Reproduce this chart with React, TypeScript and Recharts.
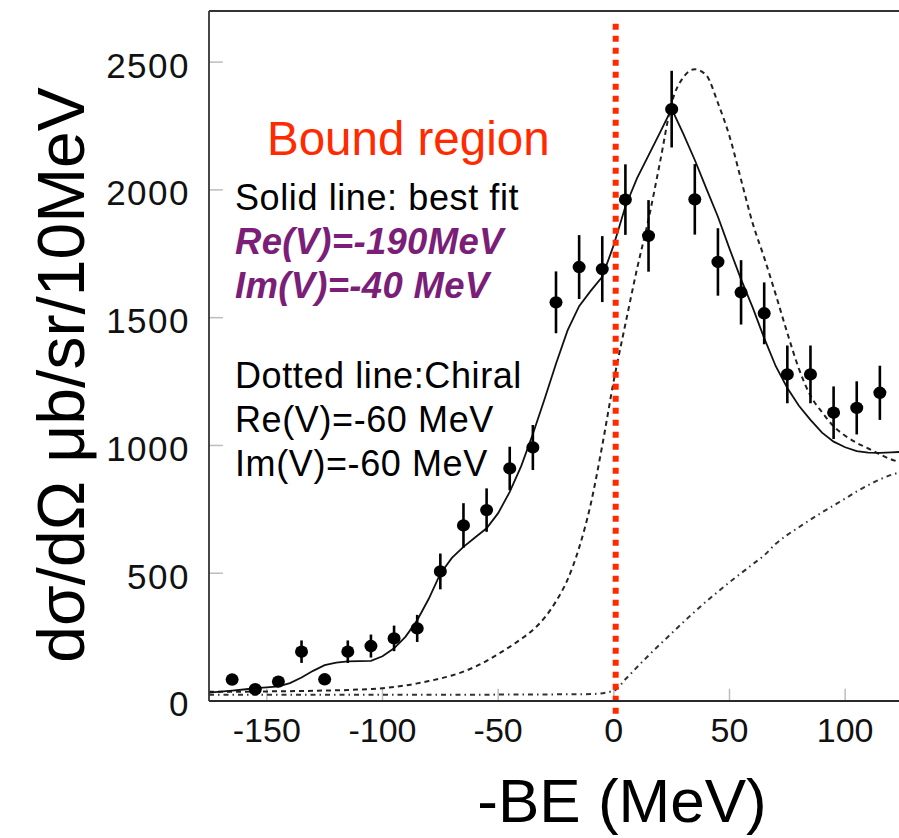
import React from 'react';
import {
  ComposedChart, Line, Scatter, XAxis, YAxis, ErrorBar, ReferenceLine,
} from 'recharts';

// Measured cross-section points (x = -BE in MeV, y = dσ/dΩ, err = error)
const pointX = [-165, -155, -145, -135, -125, -115, -105, -95, -85, -75, -65, -55, -45, -35, -25, -15, -5, 5, 15, 25, 35, 45, 55, 65, 75, 85, 95, 105, 115];
const pointY = [84, 46, 76, 193, 85, 193, 215, 245, 284, 507, 687, 747, 910, 992, 1560, 1698, 1690, 1962, 1820, 2316, 1963, 1718, 1599, 1517, 1278, 1278, 1128, 1147, 1206];
const pointErr = [18, 15, 18, 44, 20, 44, 45, 50, 53, 70, 87, 85, 85, 88, 121, 125, 129, 138, 140, 150, 138, 132, 126, 121, 113, 113, 103, 104, 106];

// Solid line: best fit
const fitX = [-175, -170, -165, -160, -155, -150, -145, -140, -135, -130, -125, -120, -115, -110, -105, -100, -95, -90, -85, -80, -75, -70, -65, -60, -55, -50, -45, -40, -35, -30, -25, -20, -15, -10, -5, 0, 5, 10, 15, 20, 25, 30, 35, 40, 45, 50, 55, 60, 65, 70, 75, 80, 85, 90, 95, 100, 105, 110, 115, 120, 125];
const fitY = [33, 37, 41, 45, 50, 53, 57, 70, 92, 118, 140, 150, 155, 156, 157, 175, 206, 252, 316, 400, 498, 560, 603, 640, 676, 735, 818, 920, 1045, 1180, 1320, 1450, 1545, 1605, 1660, 1785, 1935, 2045, 2135, 2225, 2317, 2220, 2117, 2005, 1895, 1770, 1650, 1540, 1420, 1310, 1225, 1155, 1100, 1050, 1015, 993, 978, 972, 971, 973, 975];

// Dotted line: chiral
const chiralX = [-175, -165, -155, -145, -135, -125, -115, -110, -105, -100, -95, -90, -85, -80, -75, -70, -65, -60, -55, -50, -45, -40, -35, -30, -25, -20, -15, -10, -5, 0, 5, 10, 15, 20, 25, 30, 35, 40, 45, 50, 55, 60, 65, 70, 75, 80, 85, 90, 95, 100, 105, 110, 115, 120, 125];
const chiralY = [36, 36, 37, 38, 39, 41, 43, 45, 47, 50, 55, 61, 69, 78, 88, 100, 115, 134, 157, 184, 212, 243, 278, 325, 390, 475, 600, 770, 1000, 1255, 1475, 1690, 1885, 2110, 2340, 2440, 2472, 2448, 2340, 2210, 2040, 1870, 1735, 1590, 1440, 1300, 1195, 1130, 1075, 1038, 1010, 988, 965, 945, 932];

// Dash-dot line
const dashDotX = [-175, -100, -50, -10, 0, 5, 10, 15, 20, 25, 30, 35, 40, 45, 50, 55, 60, 65, 70, 75, 80, 85, 90, 95, 100, 105, 110, 115, 120, 125];
const dashDotY = [24, 24, 25, 27, 40, 85, 132, 178, 222, 265, 308, 350, 390, 428, 465, 500, 535, 570, 615, 650, 680, 710, 738, 765, 792, 820, 845, 867, 885, 898];

const xTicks = [-150, -100, -50, 0, 50, 100];
const yTicks = [0, 500, 1000, 1500, 2000, 2500];

const annotationLines = [
  { text: 'Solid line: best fit', kind: 'plain' },
  { text: 'Re(V)=-190MeV', kind: 'bold' },
  { text: 'Im(V)=-40 MeV', kind: 'bold' },
  { text: 'Dotted line:Chiral', kind: 'plain' },
  { text: 'Re(V)=-60 MeV', kind: 'plain' },
  { text: 'Im(V)=-60 MeV', kind: 'plain' },
];

const points = pointX.map((x, i) => ({ x, y: pointY[i], err: pointErr[i] }));
const fit = fitX.map((x, i) => ({ x, y: fitY[i] }));
const chiral = chiralX.map((x, i) => ({ x, y: chiralY[i] }));
const dashDot = dashDotX.map((x, i) => ({ x, y: dashDotY[i] }));

const FONT = '"Liberation Sans", Arial, Helvetica, sans-serif';
const X_MIN = -175;
const X_MAX = 125;
const Y_MAX = 2700;

const Dot = (props: any) => {
  const { cx, cy } = props;
  if (cx == null || cy == null) return null;
  return <ellipse cx={cx} cy={cy} rx={6.5} ry={6.2} fill="#000" />;
};

export default function App() {
  const baselines = [210, 254, 298, 388, 432, 476];
  return (
    <div style={{ position: 'absolute', left: 0, top: 0, width: 899, height: 838, overflow: 'hidden', background: '#fff' }}>
      <ComposedChart
        width={910}
        height={838}
        margin={{ top: 11, right: 7, left: 0, bottom: 77 }}
      >
        <XAxis
          type="number"
          dataKey="x"
          domain={[X_MIN, X_MAX]}
          allowDataOverflow
          ticks={xTicks}
          height={60}
          tickLine={false}
          tickSize={6}
          tickMargin={11}
          axisLine={{ stroke: '#2a2a2a', strokeWidth: 2.2 }}
          tick={{ fontSize: 34, fill: '#111', fontFamily: FONT }}
        />
        <YAxis
          type="number"
          dataKey="y"
          domain={[0, Y_MAX]}
          allowDataOverflow
          ticks={yTicks}
          width={209}
          tickLine={false}
          tickSize={6}
          tickMargin={13}
          axisLine={{ stroke: '#333', strokeWidth: 1.8 }}
          tick={{ fontSize: 35, fill: '#111', fontFamily: FONT, letterSpacing: 1.5, dy: 3 }}
        />
        <ReferenceLine y={Y_MAX} stroke="#333" strokeWidth={2} />
        {yTicks.filter((t) => t > 0).map((t) => (
          <ReferenceLine
            key={'yt' + t}
            segment={[{ x: X_MIN, y: t }, { x: X_MIN + 6, y: t }]}
            stroke="#bdbdbd"
            strokeWidth={1.5}
          />
        ))}
        {xTicks.map((t) => (
          <ReferenceLine
            key={'xt' + t}
            segment={[{ x: t, y: 0 }, { x: t, y: 48 }]}
            stroke="#bdbdbd"
            strokeWidth={1.5}
          />
        ))}
        <Line
          data={dashDot}
          dataKey="y"
          type="monotone"
          stroke="#333"
          strokeWidth={2}
          strokeDasharray="5 4 1.5 4"
          dot={false}
          activeDot={false}
          isAnimationActive={false}
        />
        <Line
          data={chiral}
          dataKey="y"
          type="monotone"
          stroke="#222"
          strokeWidth={2}
          strokeDasharray="5 4"
          dot={false}
          activeDot={false}
          isAnimationActive={false}
        />
        <Line
          data={fit}
          dataKey="y"
          type="linear"
          stroke="#111"
          strokeWidth={1.8}
          dot={false}
          activeDot={false}
          isAnimationActive={false}
        />
        <Scatter data={points} dataKey="y" shape={Dot} isAnimationActive={false}>
          <ErrorBar dataKey="err" direction="y" width={0} stroke="#000" strokeWidth={2.6} />
        </Scatter>
        <ReferenceLine
          segment={[{ x: 0.8, y: 2650 }, { x: 0.8, y: -65 }]}
          ifOverflow="visible"
          stroke="#ff2a00"
          strokeWidth={6}
          strokeDasharray="6 6"
        />
      </ComposedChart>
      <svg
        width={899}
        height={838}
        style={{ position: 'absolute', left: 0, top: 0, pointerEvents: 'none' }}
      >
        <text x={267} y={155} fontFamily={FONT} fontSize={47.5} fill="#ff2a00">Bound region</text>
        {annotationLines.map((l, i) => (
          <text
            key={l.text}
            x={235}
            y={baselines[i]}
            fontFamily={FONT}
            fontSize={l.kind === 'bold' ? 36.5 : 36}
            fill={l.kind === 'bold' ? '#7a1e78' : '#000'}
            fontWeight={l.kind === 'bold' ? 'bold' : 'normal'}
            fontStyle={l.kind === 'bold' ? 'italic' : 'normal'}
            letterSpacing={l.kind === 'bold' ? 0.3 : 0.6}
          >
            {l.text}
          </text>
        ))}
        <text x={622} y={822} textAnchor="middle" fontFamily={FONT} fontSize={62} fill="#000">-BE (MeV)</text>
        <text
          transform="translate(84,375) rotate(-90)"
          textAnchor="middle"
          fontFamily={FONT}
          fontSize={66}
          fill="#000"
        >
          dσ/dΩ μb/sr/10MeV
        </text>
      </svg>
    </div>
  );
}
